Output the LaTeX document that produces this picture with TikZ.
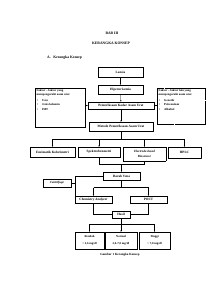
\documentclass[tikz,border=0pt]{standalone}
\usepackage{fontspec}
\setmainfont{Liberation Serif}
\usetikzlibrary{arrows.meta}
\begin{document}
\begin{tikzpicture}[x=1mm,y=-1mm,
  box/.style={draw, line width=0.9pt, inner sep=0pt, align=center, font=\fontsize{9.5}{11}\selectfont\bfseries},
  dbox/.style={box, dash pattern=on 1.5pt off 1pt},
  fbox/.style={draw, line width=0.9pt, inner sep=1.5mm, anchor=north west, font=\fontsize{8.5}{10}\selectfont\bfseries},
  ttl/.style={font=\fontsize{10.5}{12}\selectfont\bfseries},
  arr/.style={-{Stealth[length=1.5mm,width=1.2mm]}, line width=0.6pt},
  ln/.style={line width=0.6pt}]
\useasboundingbox[fill=white] (0,0) rectangle (212,300);
\node[ttl] (bab) at (112,33) {BAB III};
\node[ttl] (judul) at (111,43) {KERANGKA KONSEP};
\node[ttl, anchor=west] (sub) at (46,58) {A.\hspace{2.5mm}Kerangka Konsep};

\node[box, minimum width=45mm, minimum height=10mm] (lansia) at (120.5,72) {Lansia};
\node[box, minimum width=45mm, minimum height=9mm] (hiper) at (120.5,89.5) {Hiperurisemia};
\node[box, minimum width=66mm, minimum height=7.5mm] (periksa) at (121,105.5) {Pemeriksaan Kadar Asam Urat};
\node[box, minimum width=64mm, minimum height=9mm] (metode) at (121,126.5) {Metode Pemeriksaan Asam Urat};

\node[fbox] (fk1) at (35,88) {\begin{minipage}[t][36mm][t]{47mm}Faktor – faktor yang\\mempengaruhi asam urat\\[2.5mm]
\hspace*{0.5mm}\textbullet\hspace{4mm}Usia\\[1mm]
\hspace*{0.5mm}\textbullet\hspace{4mm}Jenis kelamin\\[1mm]
\hspace*{0.5mm}\textbullet\hspace{4mm}IMT\end{minipage}};
\node[fbox, dotted, line width=1pt] (fk2) at (157,88) {\begin{minipage}[t][33mm][t]{45mm}Faktor – faktor lain yang\\mempengaruhi asam urat\\[2.5mm]
\hspace*{0.5mm}\textbullet\hspace{4mm}Genetik\\[1mm]
\hspace*{0.5mm}\textbullet\hspace{4mm}Pola makan\\[1mm]
\hspace*{0.5mm}\textbullet\hspace{4mm}Alkohol\end{minipage}};

\node[dbox, minimum width=45mm, minimum height=10mm] (enz) at (52.5,152) {Enzimatik Kolorimetri};
\node[box, minimum width=42mm, minimum height=10mm] (spek) at (99,152) {Spektrofotometri};
\node[dbox, minimum width=43mm, minimum height=14mm, font=\fontsize{9}{13}\selectfont\bfseries\itshape] (elec) at (144.5,154) {Electrode-based\\Biosensor};
\node[dbox, minimum width=33mm, minimum height=11mm] (hplc) at (184.5,152.5) {HPLC};

\node[box, minimum width=37mm, minimum height=8mm] (darah) at (121.5,176) {Darah Vena};
\node[box, minimum width=28mm, minimum height=8mm, font=\fontsize{9}{11}\selectfont\bfseries\itshape] (centri) at (57,183) {Centrifuge};
\node[box, minimum width=37mm, minimum height=7mm] (chem) at (93.5,199.5) {Chemistry \textit{Analyzer}};
\node[box, minimum width=37mm, minimum height=7mm] (poct) at (148.5,199.5) {POCT};
\node[box, minimum width=18mm, minimum height=7mm] (hasil) at (121,214.5) {Hasil};

\node[box, minimum width=29mm, minimum height=17mm, font=\fontsize{8.5}{10}\selectfont\bfseries] (rendah) at (89.5,240.5) {Rendah\\[3.5mm]< 2,6 mg/dl};
\node[box, minimum width=32mm, minimum height=17mm, font=\fontsize{8.5}{10}\selectfont\bfseries] (normal) at (121,240.5) {Normal\\[3.5mm]2,6-7,0 mg/dl};
\node[box, minimum width=31mm, minimum height=17mm, font=\fontsize{8.5}{10}\selectfont\bfseries] (tinggi) at (154.5,240.5) {Tinggi\\[3.5mm]> 7,0 mg/dl};

\node[font=\fontsize{9}{11}\selectfont\bfseries] (cap) at (120,255) {Gambar 1 Kerangka Konsep};

% connectors
\draw[arr] (lansia) -- (hiper);
\draw[arr] (hiper) -- (periksa);
\draw[arr] (periksa) -- (metode);
\draw[arr] (fk1.east |- periksa) -- (periksa.west);
\draw[arr] (fk2.west |- periksa) -- (periksa.east);

\coordinate (bus1) at (121,139);
\draw[ln] (metode.south) -- (bus1);
\draw[ln] (enz.north |- bus1) -- (hplc.north |- bus1);
\foreach \n in {enz,spek,elec,hplc} \draw[arr] (\n.north |- bus1) -- (\n.north);

\coordinate (m1) at (121.5,164.5);
\draw[ln] (spek.south) -- (spek.south |- m1) -- (elec.south |- m1) -- (elec.south);
\draw[arr] (darah.north |- m1) -- (darah.north);

\coordinate (vl) at (75.5,176);
\draw[ln] (darah.west) -- (vl) -- (vl |- chem.north);
\draw[ln] (centri.east) -- (centri.east -| vl);

\coordinate (b2) at (121.5,187.5);
\draw[ln] (darah.south) -- (darah.south |- b2);
\draw[ln] (chem.north |- b2) -- (poct.north |- b2);
\draw[arr] (chem.north |- b2) -- (chem.north);
\draw[arr] (poct.north |- b2) -- (poct.north);

\draw[ln] (chem.south) |- (hasil.west);
\draw[ln] (poct.south) |- (hasil.east);

\coordinate (b3) at (121,224);
\draw[ln] (hasil.south) -- (hasil.south |- b3);
\draw[ln] (rendah.north |- b3) -- (tinggi.north |- b3);
\foreach \n in {rendah,normal,tinggi} \draw[arr] (\n.north |- b3) -- (\n.north);
\end{tikzpicture}
\end{document}
